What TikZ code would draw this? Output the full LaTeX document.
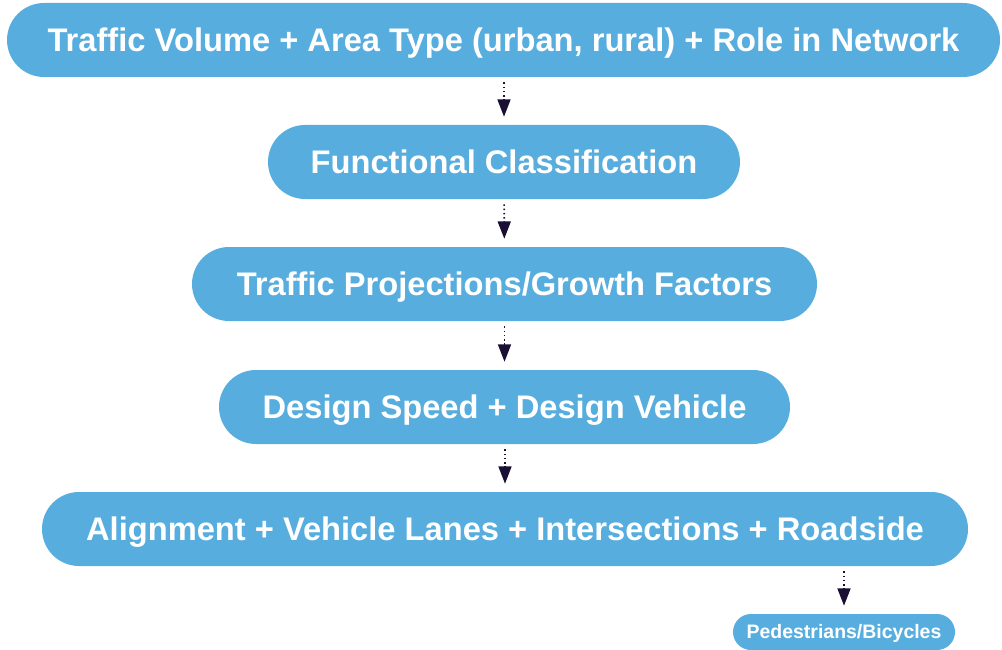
\documentclass[tikz,border=0pt]{standalone}
\usepackage{fontspec}
\setmainfont{Liberation Sans}
\usepackage{tikz}
\usetikzlibrary{arrows.meta,positioning,calc}

\definecolor{stepblue}{HTML}{57AEDE}
\definecolor{arrowink}{HTML}{1A1033}

\tikzset{
    stage/.style={fill=stepblue, draw=none, text=white, font=\bfseries\fontsize{24.5}{28}\selectfont,
        minimum height=55.5pt, rounded corners=27.75pt, inner sep=0pt,
        text height=17.5pt, text depth=0pt},
    smallstage/.style={fill=stepblue, draw=none, text=white, font=\bfseries\fontsize{14.6}{17}\selectfont,
        minimum height=27pt, minimum width=166.5pt, rounded corners=13.5pt, inner sep=0pt,
        text height=10.45pt, text depth=0pt},
    flow/.style={arrowink, dotted, line width=1.2pt, shorten <=3.75pt, shorten >=6pt,
        -{Triangle[length=13pt,width=9.75pt]}},
}

\begin{document}
\begin{tikzpicture}[x=0.75pt, y=-0.75pt]
    \useasboundingbox (0,0) rectangle (1002,649);

    % main chain of design steps
    \node[stage, minimum width=744.75pt] (volume) at (503.5,40) {Traffic Volume + Area Type (urban, rural) + Role in Network};
    \node[stage, minimum width=354pt] (class) at (504,162) {Functional Classification};
    \node[stage, minimum width=468.75pt] (growth) at (504.5,284) {Traffic Projections/Growth Factors};
    \node[stage, minimum width=428.25pt] (speed) at (504.5,407) {Design Speed + Design Vehicle};
    \node[stage, minimum width=694.5pt] (layout) at (505,529) {Alignment + Vehicle Lanes + Intersections + Roadside};

    % side branch
    \node[smallstage] (peds) at (844,632) {Pedestrians/Bicycles};

    % arrows
    \draw[flow] (volume.south -| class.north) -- (class.north);
    \draw[flow] (class) -- (growth);
    \draw[flow] (growth.south -| speed.north) -- (speed.north);
    \draw[flow] (speed.south -| layout.north) -- (layout.north);
    \draw[flow] (layout.south -| peds.north) -- (peds.north);
\end{tikzpicture}
\end{document}
